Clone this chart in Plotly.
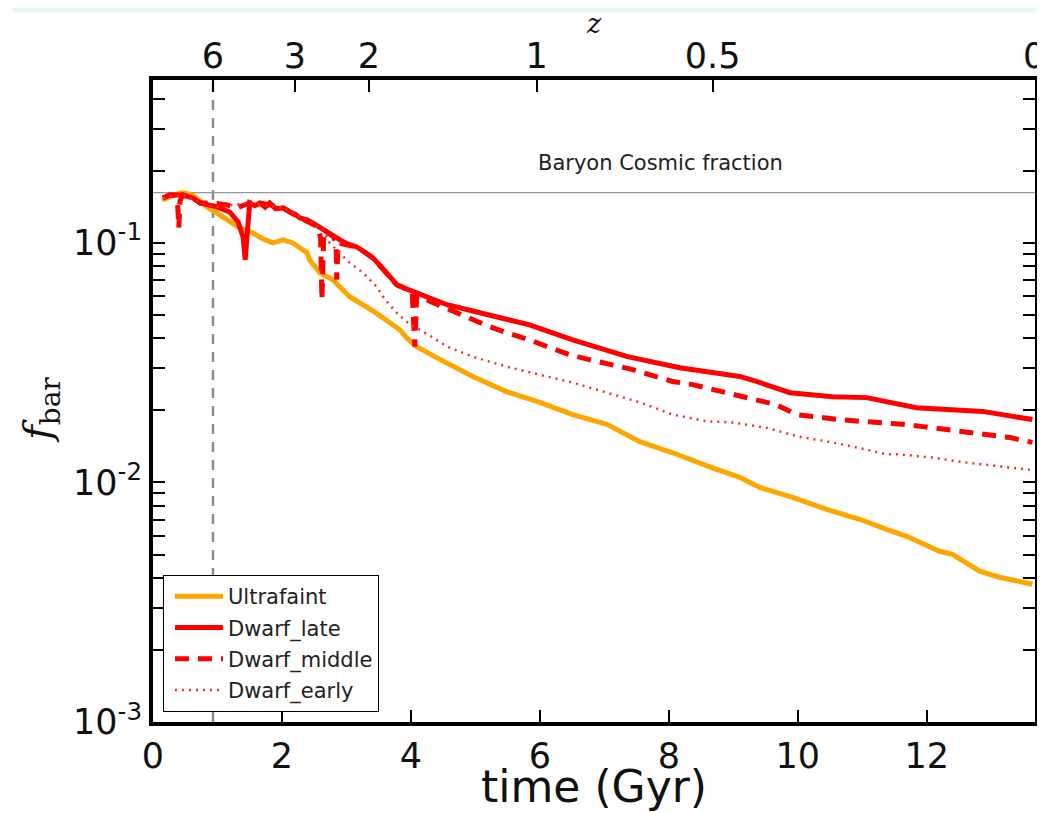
import math
import plotly.graph_objects as go

# ---------------- data ----------------
uf_t = [0.14, 0.30, 0.42, 0.50, 0.62, 0.84, 1.04, 1.20, 1.35, 1.55, 1.70, 1.86, 2.02, 2.17,
        2.39, 2.43, 2.59, 2.79, 3.05, 3.41, 3.83, 3.94, 4.09, 4.40, 4.96, 5.49, 6.00, 6.51,
        7.04, 7.55, 8.06, 8.68, 9.10, 9.41, 9.92, 10.45, 10.96, 11.38, 11.69, 12.20, 12.40,
        12.82, 13.13, 13.64]
uf_f = [0.151, 0.158, 0.1616, 0.1616, 0.158, 0.1413, 0.1308, 0.122, 0.1155, 0.110, 0.104,
        0.100, 0.1029, 0.100, 0.0908, 0.0849, 0.075, 0.0702, 0.0596, 0.052, 0.0434, 0.040,
        0.0369, 0.0332, 0.0277, 0.0239, 0.0216, 0.0192, 0.0175, 0.0148, 0.0133, 0.0115,
        0.0105, 0.00953, 0.00866, 0.00772, 0.00702, 0.00637, 0.00596, 0.00516, 0.00501,
        0.00426, 0.00402, 0.00376]

late_t = [0.155, 0.26, 0.465, 0.62, 0.73, 0.85, 0.99, 1.19, 1.32, 1.40, 1.43, 1.47, 1.50,
          1.58, 1.66, 1.74, 1.81, 1.90, 2.02, 2.12, 2.20, 2.28, 2.39, 2.50, 2.64, 2.76, 2.90,
          3.02, 3.16, 3.30, 3.41, 3.55, 3.67, 3.78, 3.95, 4.09, 4.45, 4.56, 5.07, 5.84, 6.51,
          7.36, 8.17, 8.59, 9.10, 9.36, 9.88, 10.54, 11.07, 11.84, 12.62, 12.87, 13.64]
late_f = [0.154, 0.1585, 0.1585, 0.154, 0.1468, 0.144, 0.1413, 0.1346, 0.1223, 0.105, 0.0849,
          0.1166, 0.1468, 0.143, 0.1468, 0.141, 0.1468, 0.139, 0.140, 0.1346, 0.132, 0.1271,
          0.1247, 0.1200, 0.1133, 0.1090, 0.1029, 0.0990, 0.0962, 0.0910, 0.0866, 0.0790,
          0.0722, 0.0669, 0.0640, 0.0619, 0.0568, 0.0552, 0.0511, 0.0455, 0.0394, 0.0335,
          0.0301, 0.0290, 0.0277, 0.0264, 0.0237, 0.0228, 0.0226, 0.0205, 0.0201, 0.0198,
          0.0183]

mid_t = [0.155, 0.26, 0.34, 0.38, 0.40, 0.42, 0.465, 0.62, 0.73, 0.93, 1.15, 1.30, 1.50,
         1.66, 2.02, 2.28, 2.55, 2.60, 2.62, 2.65, 2.80, 2.84, 2.85, 2.87, 3.16, 3.41, 3.67,
         3.78, 4.02, 4.06, 4.09, 4.12, 4.30, 4.60, 4.91, 5.22, 5.53, 5.84, 6.16, 6.47, 6.78,
         7.13, 7.44, 7.75, 8.06, 8.37, 8.68, 8.99, 9.36, 9.67, 9.98, 10.29, 10.65, 10.96,
         11.32, 11.63, 11.94, 12.31, 12.62, 12.93, 13.29, 13.64]
mid_f = [0.154, 0.1585, 0.158, 0.150, 0.1155, 0.150, 0.1585, 0.154, 0.1468, 0.1468, 0.144,
         0.140, 0.1468, 0.1468, 0.140, 0.1271, 0.117, 0.105, 0.0579, 0.1133, 0.106, 0.100,
         0.0702, 0.100, 0.0962, 0.0866, 0.0722, 0.0669, 0.0625, 0.0369, 0.0600, 0.0605,
         0.0570, 0.0526, 0.0487, 0.0447, 0.0418, 0.0394, 0.0365, 0.0341, 0.0325, 0.0310,
         0.0296, 0.0279, 0.0264, 0.0256, 0.0244, 0.0233, 0.0222, 0.0211, 0.0192, 0.0187,
         0.0183, 0.0180, 0.0178, 0.0175, 0.0171, 0.0166, 0.0162, 0.0158, 0.0154, 0.0147]

early_t = [0.155, 0.465, 0.73, 0.99, 1.50, 2.02, 2.39, 2.64, 2.74, 3.05, 3.26, 3.47, 3.60,
           3.78, 3.96, 4.27, 4.56, 4.96, 5.49, 6.00, 6.51, 7.04, 7.55, 8.06, 8.59, 8.99,
           9.52, 10.03, 10.54, 11.07, 11.38, 11.58, 12.09, 12.62, 13.13, 13.60]
early_f = [0.154, 0.1585, 0.1468, 0.1413, 0.1468, 0.140, 0.1247, 0.1133, 0.100, 0.0825,
           0.075, 0.0656, 0.0579, 0.0511, 0.0462, 0.0414, 0.0369, 0.0335, 0.0304, 0.0282,
           0.0261, 0.0237, 0.0216, 0.0192, 0.0180, 0.0178, 0.0169, 0.0155, 0.0147, 0.0137,
           0.0131, 0.0131, 0.0127, 0.0121, 0.0117, 0.0113]

cosmic_fraction = 0.162
z6_time = 0.93
t_max = 13.68

z_labels = ["6", "3", "2", "1", "0.5", "0"]
z_times = [0.93, 2.20, 3.35, 5.95, 8.68, 13.665]

x_ticks = [0, 2, 4, 6, 8, 10, 12]
y_ticks = [1e-3, 1e-2, 1e-1]
y_ticktext = ["10<sup>-3</sup>", "10<sup>-2</sup>", "10<sup>-1</sup>"]
y_minor = [m * 10.0 ** e for e in (-3, -2, -1) for m in range(2, 10)]

FONT = "DejaVu Sans"
TICKFONT = dict(family=FONT, size=35, color="#111111")

fig = go.Figure()

fig.add_trace(go.Scatter(x=uf_t, y=uf_f, mode="lines", name="Ultrafaint",
                         line=dict(color="#FFA500", width=5), legendgroup="a"))
fig.add_trace(go.Scatter(x=late_t, y=late_f, mode="lines", name="Dwarf_late",
                         line=dict(color="#FF0000", width=5), legendgroup="b"))
fig.add_trace(go.Scatter(x=mid_t, y=mid_f, mode="lines", name="Dwarf_middle",
                         line=dict(color="#FF0000", width=5, dash="14px,9px"), legendgroup="c"))
fig.add_trace(go.Scatter(x=early_t, y=early_f, mode="lines", name="Dwarf_early",
                         line=dict(color="#FF2a2a", width=2.5, dash="2px,5px"), legendgroup="d"))

# dummy trace so the top (redshift) axis is drawn
fig.add_trace(go.Scatter(x=[z6_time], y=[None], xaxis="x2", showlegend=False,
                         hoverinfo="skip", mode="lines"))

# cosmic fraction line
fig.add_shape(type="line", xref="x", yref="y", x0=0, x1=t_max,
              y0=cosmic_fraction, y1=cosmic_fraction,
              line=dict(color="#999999", width=1.2), layer="below")
# z=6 vertical dashed line
fig.add_shape(type="line", xref="x", yref="paper", x0=z6_time, x1=z6_time, y0=0, y1=1,
              line=dict(color="#8c8c8c", width=2.5, dash="10px,8px"), layer="below")
# light blue band at the very top
fig.add_shape(type="rect", xref="paper", yref="paper", x0=-0.159, x1=1.02,
              y0=1.105, y1=1.125, fillcolor="#e5f6fd", line=dict(width=0), layer="below")

fig.add_annotation(x=0.575, y=math.log10(cosmic_fraction), xref="paper", yref="y",
                   text="Baryon Cosmic fraction", showarrow=False, yshift=30,
                   xanchor="center", yanchor="middle",
                   font=dict(family=FONT, size=21, color="#222222"))
fig.add_annotation(x=0.5, y=-0.101, xref="paper", yref="paper",
                   xanchor="center", yanchor="middle",
                   text="time (Gyr)", showarrow=False,
                   font=dict(family=FONT, size=44, color="#111111"))
fig.add_annotation(x=-0.128, y=0.486, xref="paper", yref="paper",
                   xanchor="center", yanchor="middle",
                   text="<i>f</i><sub>bar</sub>", showarrow=False, textangle=-90,
                   font=dict(family="DejaVu Serif", size=40, color="#111111"))
fig.add_annotation(x=0.50, y=1.088, xref="paper", yref="paper",
                   xanchor="center", yanchor="middle",
                   text="<i>z</i>", showarrow=False,
                   font=dict(family="DejaVu Serif", size=27, color="#111111"))

fig.update_layout(
    width=1037, height=805,
    margin=dict(l=145, r=10, t=72, b=91, autoexpand=False),
    paper_bgcolor="white", plot_bgcolor="white",
    font=dict(family=FONT, color="#111111"),
    showlegend=True,
    legend=dict(x=0.0113, y=0.229, xanchor="left", yanchor="top",
                bgcolor="white", bordercolor="black", borderwidth=1,
                font=dict(family=FONT, size=21, color="#222222"),
                tracegroupgap=1, itemwidth=48, indentation=6, traceorder="grouped"),
    xaxis=dict(range=[0, t_max], tickvals=x_ticks, ticks="inside", ticklen=12,
               tickwidth=2, tickcolor="black", showline=True, linecolor="black",
               linewidth=4, mirror=True, showgrid=False, zeroline=False,
               tickfont=TICKFONT),
    xaxis2=dict(range=[0, t_max], overlaying="x", side="top", tickvals=z_times,
                ticktext=z_labels, ticks="inside", ticklen=12, tickwidth=2,
                tickcolor="black", showgrid=False, zeroline=False, showline=False,
                tickfont=TICKFONT, anchor="y", ticklabelstandoff=4,
                ticklabeloverflow="allow"),
    yaxis=dict(type="log", range=[-3, -0.32], tickvals=y_ticks, ticktext=y_ticktext,
               ticks="inside", ticklen=12, tickwidth=2, tickcolor="black",
               showline=True, linecolor="black", linewidth=4, mirror="allticks",
               showgrid=False, zeroline=False, tickfont=TICKFONT,
               minor=dict(tickvals=y_minor, ticks="inside", ticklen=6, tickwidth=2,
                          tickcolor="black", showgrid=False)),
)

fig.write_html("out.html")
